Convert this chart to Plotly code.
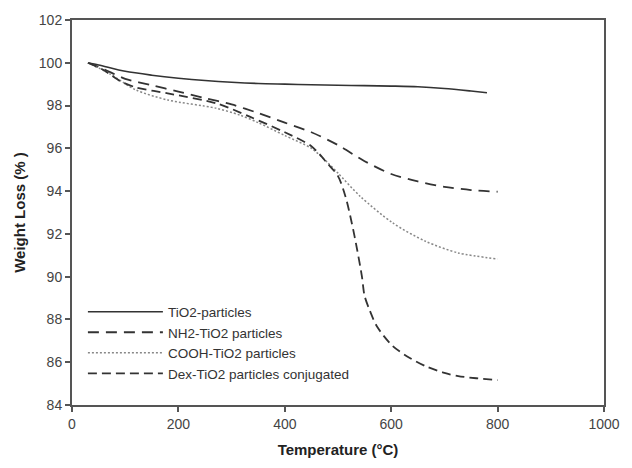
import plotly.graph_objects as go

# TiO2 particles (solid)
tio2_x = [30, 50, 100, 150, 200, 250, 300, 350, 400, 450, 500, 550, 600, 650, 700, 750, 780]
tio2_y = [100, 99.9, 99.6, 99.42, 99.28, 99.17, 99.09, 99.03, 99.0, 98.97, 98.95, 98.93, 98.91, 98.88, 98.8, 98.68, 98.6]

# NH2-TiO2 particles (long dash)
nh2_x = [30, 60, 100, 150, 200, 250, 300, 350, 400, 450, 500, 550, 600, 650, 700, 750, 800]
nh2_y = [100, 99.7, 99.25, 98.95, 98.65, 98.35, 98.05, 97.65, 97.2, 96.75, 96.15, 95.4, 94.8, 94.45, 94.2, 94.05, 93.97]

# COOH-TiO2 particles (dotted)
cooh_x = [30, 70, 120, 180, 270, 315, 350, 400, 450, 480, 500, 542, 603, 665, 726, 800]
cooh_y = [100, 99.5, 98.73, 98.26, 97.88, 97.56, 97.2, 96.6, 96.0, 95.35, 94.84, 93.75, 92.51, 91.65, 91.11, 90.83]

# Dex-TiO2 particles conjugated (dash)
dex_x = [30, 60, 90, 120, 180, 272, 334, 400, 450, 480, 500, 514, 526, 536, 545, 550, 560, 573, 603, 635, 665, 700, 726, 760, 800]
dex_y = [100, 99.65, 99.15, 98.85, 98.57, 98.1, 97.48, 96.75, 96.1, 95.3, 94.7, 93.75, 92.5, 91.26, 90.0, 89.1, 88.4, 87.68, 86.75, 86.2, 85.81, 85.5, 85.35, 85.25, 85.16]

x_ticks = [0, 200, 400, 600, 800, 1000]
y_ticks = [84, 86, 88, 90, 92, 94, 96, 98, 100, 102]

FONT = "Liberation Sans, Arial"

fig = go.Figure()
fig.add_trace(go.Scatter(x=tio2_x, y=tio2_y, mode="lines", name="TiO2-particles",
                         line=dict(color="#333333", width=1.6, dash="solid", shape="spline", smoothing=0.8)))
fig.add_trace(go.Scatter(x=nh2_x, y=nh2_y, mode="lines", name="NH2-TiO2 particles",
                         line=dict(color="#333333", width=1.8, dash="11px,7px", shape="spline", smoothing=0.8)))
fig.add_trace(go.Scatter(x=cooh_x, y=cooh_y, mode="lines", name="COOH-TiO2 particles",
                         line=dict(color="#888888", width=1.5, dash="2px,2px", shape="spline", smoothing=0.8)))
fig.add_trace(go.Scatter(x=dex_x, y=dex_y, mode="lines", name="Dex-TiO2 particles conjugated",
                         line=dict(color="#333333", width=1.8, dash="9px,5px", shape="spline", smoothing=0.8)))

axis_common = dict(showline=True, linecolor="#555555", linewidth=2, mirror=True,
                   ticks="outside", ticklen=5, tickwidth=1.5, tickcolor="#555555",
                   showgrid=False, zeroline=False,
                   tickfont=dict(family=FONT, size=14, color="#444444"))

fig.update_layout(
    width=632, height=468,
    margin=dict(l=72, r=16, t=20, b=62),
    paper_bgcolor="white", plot_bgcolor="white",
    showlegend=True,
    legend=dict(x=0.0205, y=0.282, xanchor="left", yanchor="top",
                bgcolor="rgba(0,0,0,0)", itemwidth=75,
                font=dict(family=FONT, size=13.5, color="#333333"),
                tracegroupgap=0),
    xaxis=dict(range=[0, 1000], tickvals=x_ticks,
               title=dict(text="<b>Temperature (°C)</b>", font=dict(family=FONT, size=15, color="#222222"), standoff=14),
               **axis_common),
    yaxis=dict(range=[84, 102], tickvals=y_ticks,
               title=dict(text="<b>Weight Loss (%\u00a0)</b>", font=dict(family=FONT, size=15, color="#222222"), standoff=10),
               **axis_common),
)

fig.write_html("out.html")
